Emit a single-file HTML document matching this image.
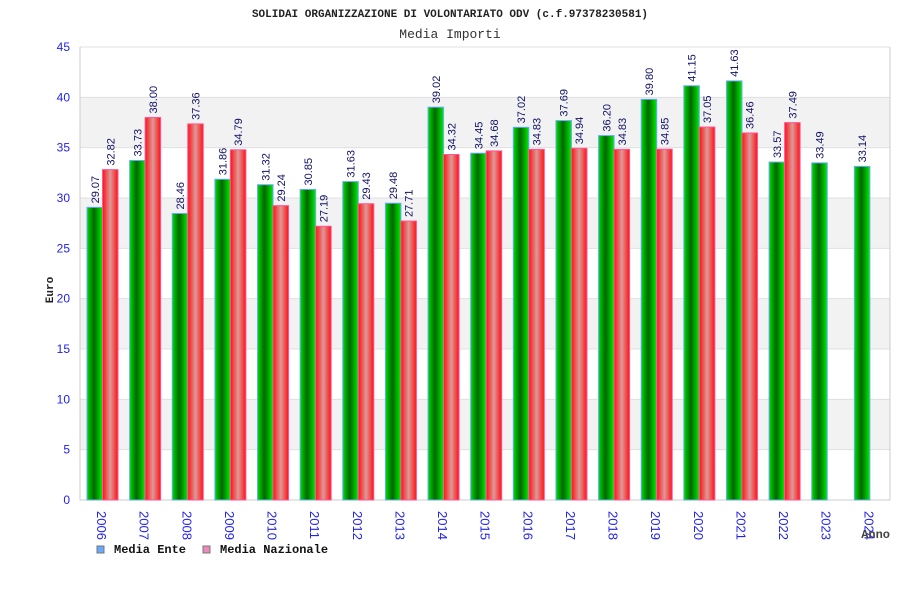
<!DOCTYPE html>
<html><head><meta charset="utf-8"><style>
html,body{margin:0;padding:0;background:#fff;}
svg{display:block;}
</style></head><body>
<svg id="chart" width="900" height="600" xmlns="http://www.w3.org/2000/svg">
<defs>
<linearGradient id="gGreen" x1="0" x2="1" y1="0" y2="0">
<stop offset="0" stop-color="#00dd00"/><stop offset="0.45" stop-color="#006600"/><stop offset="1" stop-color="#00ee00"/>
</linearGradient>
<linearGradient id="gRed" x1="0" x2="1" y1="0" y2="0">
<stop offset="0" stop-color="#ff1111"/><stop offset="0.5" stop-color="#dd9999"/><stop offset="1" stop-color="#ff1111"/>
</linearGradient>
</defs>
<text x="450" y="17" text-anchor="middle" font-family="Liberation Mono, monospace" font-size="11" font-weight="bold" fill="#222">SOLIDAI ORGANIZZAZIONE DI VOLONTARIATO ODV (c.f.97378230581)</text>
<text x="450" y="38" text-anchor="middle" font-family="Liberation Mono, monospace" font-size="13" fill="#333">Media Importi</text>
<g id="grid"></g>
<g id="bars"></g>
<g id="labels"></g>
<text transform="translate(53,290) rotate(-90)" text-anchor="middle" font-family="Liberation Mono, monospace" font-size="11" font-weight="bold" fill="#222">Euro</text>
<text x="890" y="538" text-anchor="end" font-family="Liberation Mono, monospace" font-size="12" font-weight="bold" fill="#444">Anno</text>
<g>
<rect x="97" y="546" width="7" height="7" fill="#66aaff" stroke="#777"/>
<text x="114" y="553" font-family="Liberation Mono, monospace" font-size="12" font-weight="bold" fill="#111">Media Ente</text>
<rect x="203" y="546" width="7" height="7" fill="#ee88bb" stroke="#777"/>
<text x="220" y="553" font-family="Liberation Mono, monospace" font-size="12" font-weight="bold" fill="#111">Media Nazionale</text>
</g>
</svg>
<script>
const years = ["2006","2007","2008","2009","2010","2011","2012","2013","2014","2015","2016","2017","2018","2019","2020","2021","2022","2023","2024"];
const mediaEnte = [29.07,33.73,28.46,31.86,31.32,30.85,31.63,29.48,39.02,34.45,37.02,37.69,36.20,39.80,41.15,41.63,33.57,33.49,33.14];
const mediaNazionale = [32.82,38.00,37.36,34.79,29.24,27.19,29.43,27.71,34.32,34.68,34.83,34.94,34.83,34.85,37.05,36.46,37.49,null,null];
const yTicks = [0,5,10,15,20,25,30,35,40,45];

const NS = "http://www.w3.org/2000/svg";
const L = 80, R = 890, T = 47, B = 500, yMax = 45;
const yScale = v => B - v / yMax * (B - T);
const gw = (R - L) / years.length;
const xGroup = i => L + i * gw;
function mk(tag, attrs, parent, text) {
  const e = document.createElementNS(NS, tag);
  for (const k in attrs) e.setAttribute(k, attrs[k]);
  if (text !== undefined) e.textContent = text;
  parent.appendChild(e);
  return e;
}
const grid = document.getElementById('grid');
const bars = document.getElementById('bars');
const labels = document.getElementById('labels');

for (let k = 0; k < yTicks.length - 1; k++) {
  if (k % 2 === 1) {
    const band = mk('rect', {x: L, y: yScale(yTicks[k + 1]), width: R - L, height: yScale(yTicks[k]) - yScale(yTicks[k + 1]), fill: '#f2f2f2'}, grid);
    
    
  }
}
yTicks.forEach(t => {
  const ln = mk('line', {x1: L, x2: R, y1: yScale(t), y2: yScale(t), stroke: '#e0e0e0', 'stroke-width': 1}, grid);
  
  
  const tx = mk('text', {x: 70, y: yScale(t) + 4, 'text-anchor': 'end', 'font-family': 'Liberation Sans, sans-serif', 'font-size': 12, fill: '#2222ee'}, grid, String(t));
  
  
});
const ax = mk('path', {d: `M${L},${T} V${B} H${R} V${T}`, fill: 'none', stroke: '#cccccc', 'stroke-width': 1}, grid);



const bw = 15.5;
years.forEach((yr, i) => {
  const x0 = xGroup(i) + 7;
  const ve = mediaEnte[i];
  if (ve !== null) {
    const r = mk('rect', {x: x0, y: yScale(ve), width: bw, height: B - yScale(ve), fill: 'url(#gGreen)', stroke: '#66aaff', 'stroke-width': 1}, bars);
    
    
    const t = mk('text', {transform: `translate(${x0 + bw / 2 + 4},${yScale(ve) - 4}) rotate(-90)`, 'font-family': 'Liberation Sans, sans-serif', 'font-size': 11, fill: '#111166'}, labels, ve.toFixed(2));
    
    
  }
  const vn = mediaNazionale[i];
  if (vn !== null) {
    const x1 = x0 + bw;
    const r = mk('rect', {x: x1, y: yScale(vn), width: bw, height: B - yScale(vn), fill: 'url(#gRed)', stroke: '#ff5599', 'stroke-width': 1}, bars);
    
    
    const t = mk('text', {transform: `translate(${x1 + bw / 2 + 4},${yScale(vn) - 4}) rotate(-90)`, 'font-family': 'Liberation Sans, sans-serif', 'font-size': 11, fill: '#111166'}, labels, vn.toFixed(2));
    
    
  }
  const yl = mk('text', {transform: `translate(${xGroup(i) + 17},${511}) rotate(90)`, 'font-family': 'Liberation Sans, sans-serif', 'font-size': 13, fill: '#2222ee'}, labels, yr);
  
  
});
</script>
</body></html>
